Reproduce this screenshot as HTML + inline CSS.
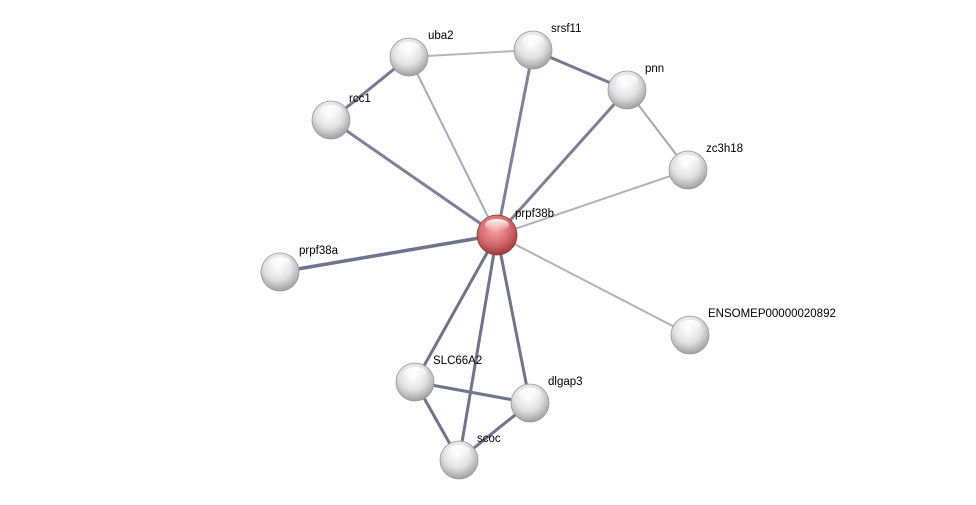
<!DOCTYPE html>
<html><head><meta charset="utf-8"><style>
html,body{margin:0;padding:0;background:#fff;}
svg{display:block;}
text{font-family:"Liberation Sans",sans-serif;font-size:11.5px;fill:#000;}
</style></head><body>
<svg width="976" height="505" viewBox="0 0 976 505" xmlns="http://www.w3.org/2000/svg">
<defs>
<radialGradient id="g" cx="45%" cy="35%" r="65%">
<stop offset="0" stop-color="#ffffff"/><stop offset="0.55" stop-color="#e2e2e2"/><stop offset="1" stop-color="#a0a0a0"/>
</radialGradient>
<radialGradient id="r" cx="45%" cy="35%" r="65%">
<stop offset="0" stop-color="#f4a9a9"/><stop offset="0.6" stop-color="#d56a6c"/><stop offset="1" stop-color="#9e3a3c"/>
</radialGradient>
<linearGradient id="hl" x1="0" y1="0" x2="0" y2="1">
<stop offset="0" stop-color="#fff" stop-opacity="0.95"/><stop offset="1" stop-color="#fff" stop-opacity="0"/>
</linearGradient>
</defs>
<g stroke-linecap="round">
<line x1="409" y1="57" x2="331" y2="120" stroke="#757a92" stroke-width="3"/>
<line x1="409" y1="57" x2="533" y2="50" stroke="#b4b4c2" stroke-width="2"/>
<line x1="533" y1="50" x2="627" y2="90" stroke="#757a92" stroke-width="3"/>
<line x1="627" y1="90" x2="688" y2="170" stroke="#a4a6b8" stroke-width="2"/>
<line x1="497" y1="235" x2="331" y2="120" stroke="#7c8098" stroke-width="3"/>
<line x1="497" y1="235" x2="409" y2="57" stroke="#a8aabb" stroke-width="2"/>
<line x1="497" y1="235" x2="533" y2="50" stroke="#7c8098" stroke-width="3"/>
<line x1="497" y1="235" x2="627" y2="90" stroke="#7c8098" stroke-width="3"/>
<line x1="497" y1="235" x2="688" y2="170" stroke="#b0b0c0" stroke-width="2"/>
<line x1="497" y1="235" x2="280" y2="272" stroke="#6f748c" stroke-width="3.5"/>
<line x1="497" y1="235" x2="690" y2="335" stroke="#b0b0c0" stroke-width="2"/>
<line x1="497" y1="235" x2="415" y2="382" stroke="#6f748c" stroke-width="3"/>
<line x1="497" y1="235" x2="530" y2="403" stroke="#6f748c" stroke-width="3"/>
<line x1="497" y1="235" x2="459" y2="460" stroke="#6f748c" stroke-width="3"/>
<line x1="415" y1="382" x2="530" y2="403" stroke="#6f748c" stroke-width="3"/>
<line x1="415" y1="382" x2="459" y2="460" stroke="#6f748c" stroke-width="3"/>
<line x1="530" y1="403" x2="459" y2="460" stroke="#6f748c" stroke-width="3"/>
</g>
<g>
<g transform="translate(409,57)"><circle r="19" fill="url(#g)" stroke="#999" stroke-width="0.8"/><ellipse cy="-9" rx="11" ry="6" fill="url(#hl)"/></g>
<g transform="translate(533,50)"><circle r="19" fill="url(#g)" stroke="#999" stroke-width="0.8"/><ellipse cy="-9" rx="11" ry="6" fill="url(#hl)"/></g>
<g transform="translate(627,90)"><circle r="19" fill="url(#g)" stroke="#999" stroke-width="0.8"/><ellipse cy="-9" rx="11" ry="6" fill="url(#hl)"/></g>
<g transform="translate(331,120)"><circle r="19" fill="url(#g)" stroke="#999" stroke-width="0.8"/><ellipse cy="-9" rx="11" ry="6" fill="url(#hl)"/></g>
<g transform="translate(688,170)"><circle r="19" fill="url(#g)" stroke="#999" stroke-width="0.8"/><ellipse cy="-9" rx="11" ry="6" fill="url(#hl)"/></g>
<g transform="translate(497,235)"><circle r="20" fill="url(#r)" stroke="#8a3a3a" stroke-width="0.8"/><ellipse cy="-10" rx="12" ry="6" fill="url(#hl)"/></g>
<g transform="translate(280,272)"><circle r="19" fill="url(#g)" stroke="#999" stroke-width="0.8"/><ellipse cy="-9" rx="11" ry="6" fill="url(#hl)"/></g>
<g transform="translate(690,335)"><circle r="19" fill="url(#g)" stroke="#999" stroke-width="0.8"/><ellipse cy="-9" rx="11" ry="6" fill="url(#hl)"/></g>
<g transform="translate(415,382)"><circle r="19" fill="url(#g)" stroke="#999" stroke-width="0.8"/><ellipse cy="-9" rx="11" ry="6" fill="url(#hl)"/></g>
<g transform="translate(530,403)"><circle r="19" fill="url(#g)" stroke="#999" stroke-width="0.8"/><ellipse cy="-9" rx="11" ry="6" fill="url(#hl)"/></g>
<g transform="translate(459,460)"><circle r="19" fill="url(#g)" stroke="#999" stroke-width="0.8"/><ellipse cy="-9" rx="11" ry="6" fill="url(#hl)"/></g>
</g>
<text x="428" y="39">uba2</text>
<text x="551" y="32">srsf11</text>
<text x="645" y="72">pnn</text>
<text x="349" y="102">rcc1</text>
<text x="706" y="152">zc3h18</text>
<text x="515" y="217">prpf38b</text>
<text x="299" y="254">prpf38a</text>
<text x="708" y="317">ENSOMEP00000020892</text>
<text x="433" y="364">SLC66A2</text>
<text x="548" y="385">dlgap3</text>
<text x="477" y="442">scoc</text>
</svg>
</body></html>
